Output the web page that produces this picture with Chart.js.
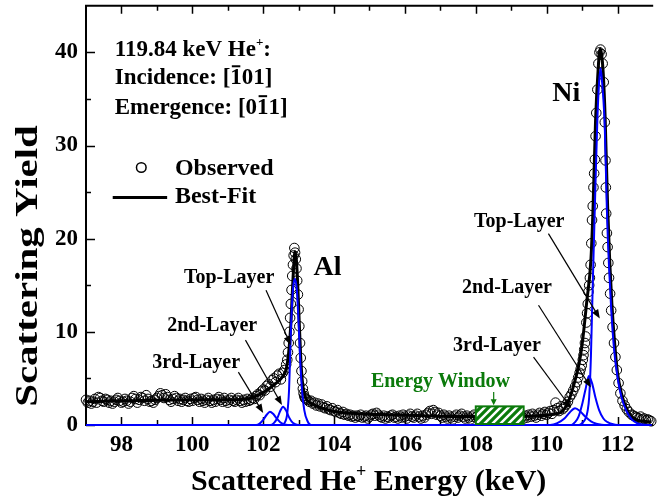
<!DOCTYPE html>
<html><head><meta charset="utf-8">
<script src="https://cdn.jsdelivr.net/npm/chart.js@4/dist/chart.umd.min.js"></script>
<style>html,body{margin:0;padding:0;background:#fff;overflow:hidden}canvas{display:block}</style>
</head><body>
<canvas id="c" width="657" height="502"></canvas>
<script>
// ---------- axis ticks ----------
const xTickValues = [98, 100, 102, 104, 106, 108, 110, 112];
const xMinorTicks = [99, 101, 103, 105, 107, 109, 111];
const yTickValues = [0, 10, 20, 30, 40];
const yMinorTicks = [5, 15, 25, 35];

// ---------- observed spectrum (keV, counts) ----------
const obsEnergy = [
 97,97.05,97.1,97.15,97.2,97.25,97.3,97.35,97.4,97.45,97.5,97.55,97.6,97.65,97.7,97.75,97.8,97.85,97.9,97.95,
 98,98.05,98.1,98.15,98.2,98.25,98.3,98.35,98.4,98.45,98.5,98.55,98.6,98.65,98.7,98.75,98.8,98.85,98.9,98.95,
 99,99.05,99.1,99.15,99.2,99.25,99.3,99.35,99.4,99.45,99.5,99.55,99.6,99.65,99.7,99.75,99.8,99.85,99.9,99.95,
 100,100.05,100.1,100.15,100.2,100.25,100.3,100.35,100.4,100.45,100.5,100.55,100.6,100.65,100.7,100.75,100.8,100.85,100.9,100.95,
 101,101.05,101.1,101.15,101.2,101.25,101.3,101.35,101.4,101.45,101.5,101.55,101.6,101.65,101.7,101.75,101.8,101.85,101.9,101.95,
 102,102.05,102.1,102.15,102.2,102.25,102.3,102.35,102.4,102.45,102.5,102.55,102.6,102.65,
 102.68,102.7,102.72,102.74,102.76,102.78,102.8,102.82,102.84,102.86,102.88,102.9,102.92,102.94,102.96,102.98,103,103.02,103.04,103.06,103.08,103.1,103.12,103.14,103.16,103.18,103.2,
 103.25,103.3,103.35,103.4,103.45,103.5,103.55,103.6,103.65,103.7,103.75,103.8,103.85,103.9,103.95,
 104,104.05,104.1,104.15,104.2,104.25,104.3,104.35,104.4,104.45,104.5,104.55,104.6,104.65,104.7,104.75,104.8,104.85,104.9,104.95,
 105,105.05,105.1,105.15,105.2,105.25,105.3,105.35,105.4,105.45,105.5,105.55,105.6,105.65,105.7,105.75,105.8,105.85,105.9,105.95,
 106,106.05,106.1,106.15,106.2,106.25,106.3,106.35,106.4,106.45,106.5,106.55,106.6,106.65,106.7,106.75,106.8,106.85,106.9,106.95,
 107,107.05,107.1,107.15,107.2,107.25,107.3,107.35,107.4,107.45,107.5,107.55,107.6,107.65,107.7,107.75,107.8,107.85,107.9,107.95,
 108,108.05,108.1,108.15,108.2,108.25,108.3,108.35,108.4,108.45,108.5,108.55,108.6,108.65,108.7,108.75,108.8,108.85,108.9,108.95,
 109,109.05,109.1,109.15,109.2,109.25,109.3,109.35,109.4,109.45,109.5,109.55,109.6,109.65,109.7,109.75,109.8,109.85,109.9,109.95,
 110,110.05,110.1,110.15,110.2,110.25,110.3,110.35,110.4,110.45,
 110.5,110.55,110.6,110.65,110.7,110.75,110.8,110.85,110.89,110.93,110.96,110.99,
 111.02,111.04,111.06,111.08,111.1,111.12,111.14,111.16,111.18,111.2,111.22,111.24,111.26,111.28,111.3,111.32,111.34,111.36,111.38,111.4,
 111.43,111.46,111.49,111.52,111.55,111.58,111.61,111.64,
 111.66,111.67,111.68,111.7,111.72,111.74,111.76,
 111.79,111.82,111.86,111.9,111.94,111.98,
 112.03,112.08,112.14,112.2,112.26,112.32,112.4,112.45,
 112.5,112.55,112.6,112.65,112.7,112.75,112.8,112.85,112.9,112.95
];
const obsCount = [
 2.7,2.4,2.6,2.3,2.5,2.8,2.4,3.0,2.9,2.6,2.5,2.8,2.7,2.4,2.6,2.3,2.5,2.7,2.9,2.6,
 2.4,2.5,2.8,2.6,2.3,2.5,2.9,3.1,2.8,2.4,2.7,3.0,2.9,2.6,3.2,2.8,2.5,2.6,2.4,2.7,
 2.9,3.1,3.4,3.2,2.9,3.3,3.0,2.7,2.5,2.8,3.1,2.9,2.6,2.8,2.5,2.7,2.9,2.6,2.5,2.8,
 2.6,2.9,3.0,2.7,2.5,2.8,2.6,2.4,2.7,2.9,2.6,2.4,2.7,2.5,2.8,3.0,2.7,2.5,2.9,2.6,
 2.4,2.7,2.9,2.6,2.5,2.7,2.9,2.6,2.4,2.7,2.5,2.8,2.6,2.7,2.9,2.8,3.1,3.3,3.2,3.6,
 3.8,3.7,4.2,4.4,4.1,4.8,5.0,4.6,5.3,5.5,4.9,5.6,5.9,6.5,
 7.0,7.8,8.8,10.0,11.5,13.0,14.5,16.0,17.2,18.2,19.0,18.5,17.8,16.8,15.5,14.0,12.4,10.6,8.8,7.2,5.8,4.7,3.9,3.4,3.1,2.9,2.8,
 2.7,2.5,2.6,2.3,2.4,2.1,2.3,2.0,2.2,1.9,1.8,2.0,1.7,1.6,1.8,
 1.5,1.4,1.6,1.3,1.2,1.4,1.1,1.2,1.0,1.1,0.9,1.0,0.8,1.0,0.9,1.1,0.8,0.9,1.0,0.7,
 0.9,1.1,1.2,1.0,1.3,1.1,0.9,0.8,1.0,0.7,0.9,0.8,1.0,1.1,0.8,0.9,0.7,1.0,0.8,1.1,
 0.9,0.7,1.0,1.2,0.9,0.8,1.0,1.2,0.9,0.7,1.0,0.8,1.1,1.3,1.5,1.2,1.6,1.4,1.1,1.3,
 1.0,0.8,1.1,0.9,0.7,1.0,0.8,0.6,0.9,1.1,0.8,1.0,1.2,0.9,0.7,1.0,0.8,0.6,0.9,1.1,
 0.8,1.0,0.7,0.9,1.1,0.8,0.6,0.9,1.0,0.7,0.9,1.2,0.8,0.6,0.9,1.1,0.8,1.0,0.7,0.9,
 1.1,0.8,1.0,0.7,0.9,1.2,0.9,0.7,1.0,0.8,1.1,0.9,1.2,1.0,0.8,1.1,1.3,1.0,1.2,1.4,
 1.1,1.3,1.5,1.2,1.6,2.4,1.8,1.5,2.0,1.7,
 1.9,2.2,2.5,3.0,3.3,3.7,4.1,4.6,5.1,5.6,6.0,6.4,
 7.0,7.5,8.1,8.8,9.5,11.0,12.0,13.0,14.3,15.0,15.8,17.2,19.5,22.0,23.5,25.5,27.0,28.5,31.0,33.5,
 36.0,38.8,40.0,40.3,39.8,38.8,36.8,32.5,
 28.4,25.5,22.7,20.6,19.1,17.4,15.8,
 14.1,12.3,10.5,8.8,7.3,5.9,
 4.5,3.4,2.6,2.1,1.7,1.4,1.1,1.0,
 0.9,0.8,0.7,0.9,0.6,0.7,0.5,0.6,0.5,0.4
];

// ---------- best fit (keV, counts) ----------
const fitEnergy = [97,97.5,98,98.5,99,99.5,100,100.5,101,101.4,101.6,101.8,102.0,102.2,102.4,102.55,102.65,102.72,102.78,102.83,102.87,102.9,102.94,102.98,103.02,103.06,103.1,103.15,103.2,103.3,103.5,103.75,104.0,104.5,105.0,105.5,106.0,107.0,108.0,109.0,109.5,109.8,110.0,110.2,110.4,110.6,110.75,110.9,111.0,111.13,111.25,111.31,111.38,111.45,111.51,111.55,111.6,111.65,111.72,111.78,111.84,111.92,112.0,112.11,112.25,112.4,112.6,112.95];
const fitCount  = [2.5,2.55,2.6,2.62,2.65,2.68,2.7,2.72,2.72,2.75,2.82,3.1,3.5,4.0,4.6,5.2,6.0,7.8,10.8,14.8,17.6,18.6,17.6,14.6,10.8,7.2,4.9,3.5,2.9,2.45,2.05,1.7,1.45,1.25,1.15,1.1,1.05,0.95,0.9,0.9,0.95,1.0,1.05,1.15,1.35,2.4,4.1,6.3,8.6,13.2,17.8,23.4,32.7,38.0,40.4,39.8,37.5,33.0,23.5,17.5,13.0,8.7,5.6,3.4,1.8,0.9,0.45,0.35];

// ---------- layer components (keV, counts) ----------
const alTopE    = [97,102.55,102.6,102.68,102.73,102.76,102.79,102.84,102.89,102.95,103.0,103.04,103.09,103.16,103.26,103.35,112.95];
const alTopY    = [0,0,0.2,1.25,3.75,7.3,10.9,14.5,15.7,14.5,10.9,7.3,4.1,1.6,0.35,0,0];
const alSecondE = [97,102.2,102.3,102.4,102.48,102.56,102.64,102.72,102.8,102.9,103.0,112.95];
const alSecondY = [0,0,0.2,0.75,1.5,1.96,1.6,0.9,0.4,0.1,0,0];
const alThirdE  = [97,101.8,101.9,102.0,102.1,102.19,102.28,102.38,102.48,102.58,102.7,112.95];
const alThirdY  = [0,0,0.15,0.55,1.1,1.43,1.2,0.7,0.3,0.08,0,0];
const niTopE    = [97,110.9,111.0,111.1,111.15,111.2,111.25,111.3,111.36,111.43,111.48,111.52,111.56,111.6,111.64,111.7,111.76,111.82,111.9,112.0,112.11,112.25,112.4,112.55,112.7,112.95];
const niTopY    = [0,0,0.2,0.7,1.4,3.0,7.5,15.0,23.4,32.7,36.8,38.3,37.0,35.0,32.0,23.0,17.0,12.5,8.2,5.1,3.0,1.5,0.6,0.2,0.05,0];
const niSecondE = [97,110.7,110.8,110.9,111.0,111.1,111.19,111.28,111.38,111.48,111.6,111.72,111.85,112.0,112.95];
const niSecondY = [0,0,0.3,0.9,2.2,3.9,5.25,4.5,2.9,1.6,0.7,0.3,0.1,0,0];
const niThirdE  = [97,110.1,110.3,110.5,110.65,110.8,110.95,111.1,111.25,111.4,111.55,111.7,112.95];
const niThirdY  = [0,0,0.2,0.7,1.35,1.8,1.45,0.85,0.4,0.15,0.03,0,0];

// energy window (keV range, counts height)
const windowRange = [108.0, 109.35];
const windowHeight = 2.0;

// ---------- annotation layout (data coordinates) ----------
const layerNotes = [
  {text:'Top-Layer', at:[99.765,15.21], tail:[102.08,14.46], head:[102.78,8.57]},
  {text:'2nd-Layer', at:[99.29,10.07],  tail:[101.50,9.11],  head:[102.53,2.14]},
  {text:'3rd-Layer', at:[98.87,6.11],   tail:[101.30,5.68],  head:[102.00,1.29]},
  {text:'Top-Layer', at:[107.95,21.21], tail:[110.05,20.54], head:[111.50,11.43]},
  {text:'2nd-Layer', at:[107.61,14.14], tail:[109.77,12.86], head:[111.25,4.02]},
  {text:'3rd-Layer', at:[107.36,7.93],  tail:[109.63,7.29],  head:[110.69,1.82]}
];

const SERIF = '"Liberation Serif","Times New Roman",Times,serif';
const F = (s) => `bold ${s}px ${SERIF}`;
const pts = (E, Y) => E.slice(0, Math.min(E.length, Y.length)).map((e, i) => ({x: e, y: Y[i]}));

const blue = {type:'line', borderColor:'#0000ff', borderWidth:2, pointRadius:0, showLine:true, fill:false, cubicInterpolationMode:'monotone', clip:6};

function drawRuns(ctx, x, y, runs, measureOnly) {
  let w0 = 0;
  for (const r of runs) {
    ctx.font = F(r.size);
    const w = ctx.measureText(r.t).width;
    if (!measureOnly) {
      ctx.fillText(r.t, x + w0, y + (r.dy || 0));
      if (r.bar) ctx.fillRect(x + w0 + 1.5, y - r.size * 0.80, w - 3, 2);
    }
    w0 += w;
  }
  return w0;
}

function arrow(ctx, x1, y1, x2, y2, color, hl, hw) {
  ctx.strokeStyle = color; ctx.fillStyle = color; ctx.lineWidth = 1.2;
  const a = Math.atan2(y2 - y1, x2 - x1);
  ctx.beginPath(); ctx.moveTo(x1, y1);
  ctx.lineTo(x2 - Math.cos(a) * hl * 0.8, y2 - Math.sin(a) * hl * 0.8); ctx.stroke();
  ctx.beginPath();
  ctx.moveTo(x2, y2);
  ctx.lineTo(x2 - Math.cos(a) * hl + Math.sin(a) * hw, y2 - Math.sin(a) * hl - Math.cos(a) * hw);
  ctx.lineTo(x2 - Math.cos(a) * hl - Math.sin(a) * hw, y2 - Math.sin(a) * hl + Math.cos(a) * hw);
  ctx.closePath(); ctx.fill();
}

const decor = {
  id: 'decor',
  beforeDatasetsDraw(chart) {
    const {ctx, chartArea: a, scales: {x, y}} = chart;
    ctx.save();
    ctx.strokeStyle = '#000';
    ctx.lineWidth = 2;
    ctx.beginPath();
    ctx.moveTo(a.left, a.bottom + 1); ctx.lineTo(a.left, a.top); ctx.lineTo(a.right + 2, a.top);
    ctx.moveTo(a.left, a.bottom); ctx.lineTo(a.right + 2, a.bottom);
    ctx.stroke();
    ctx.lineWidth = 1.5;
    ctx.beginPath();
    const tick = (v, len) => {
      const px = Math.round(x.getPixelForValue(v)) + 0.5;
      ctx.moveTo(px, a.bottom); ctx.lineTo(px, a.bottom - len);
      ctx.moveTo(px, a.top); ctx.lineTo(px, a.top + len);
    };
    xTickValues.forEach(v => tick(v, 8));
    xMinorTicks.forEach(v => tick(v, 5));
    const ytick = (v, len) => {
      const py = Math.round(y.getPixelForValue(v)) + 0.5;
      ctx.moveTo(a.left, py); ctx.lineTo(a.left + len, py);
    };
    yTickValues.forEach(v => ytick(v, 9));
    yMinorTicks.forEach(v => ytick(v, 5));
    ctx.stroke();
    ctx.restore();
  },
  afterDatasetsDraw(chart) {
    const {ctx, chartArea: a, scales: {x, y}} = chart;
    const X = v => x.getPixelForValue(v), Y = v => y.getPixelForValue(v);
    ctx.save();
    // energy window box
    const pc = document.createElement('canvas'); pc.width = 8; pc.height = 8;
    const p = pc.getContext('2d');
    p.fillStyle = '#ffffff'; p.fillRect(0, 0, 8, 8);
    p.strokeStyle = '#0b7a0b'; p.lineWidth = 3.2;
    p.beginPath();
    p.moveTo(-2, 10); p.lineTo(10, -2);
    p.moveTo(-6, 6); p.lineTo(6, -6);
    p.moveTo(2, 14); p.lineTo(14, 2);
    p.stroke();
    const pat = ctx.createPattern(pc, 'repeat');
    const bx = X(windowRange[0]), bx2 = X(windowRange[1]), by = Y(windowHeight), by2 = Y(0);
    ctx.fillStyle = pat; ctx.fillRect(bx, by, bx2 - bx, by2 - by - 1);
    ctx.strokeStyle = '#0b7a0b'; ctx.lineWidth = 2;
    ctx.strokeRect(bx, by, bx2 - bx, by2 - by - 1);
    const wx = X((windowRange[0] + windowRange[1]) / 2 - 0.17);
    arrow(ctx, wx, Y(3.54), wx, by - 1, '#0b7a0b', 6, 3);
    ctx.fillStyle = '#0b7a0b'; ctx.font = F(20); ctx.textBaseline = 'alphabetic'; ctx.textAlign = 'left';
    ctx.fillText('Energy Window', X(105.04), Y(4.07));

    // layer labels + arrows
    for (const n of layerNotes) {
      ctx.fillStyle = '#000'; ctx.font = F(20); ctx.textAlign = 'left';
      ctx.fillText(n.text, X(n.at[0]), Y(n.at[1]));
      arrow(ctx, X(n.tail[0]), Y(n.tail[1]), X(n.head[0]), Y(n.head[1]), '#000', 9, 3.5);
    }
    ctx.fillStyle = '#000';
    ctx.font = F(28);
    ctx.fillText('Al', X(103.42), Y(16.07));
    ctx.fillText('Ni', X(110.16), Y(34.82));

    // header
    const hx = X(97.81);
    drawRuns(ctx, hx, Y(39.64), [{t:'119.84 keV He', size:23}, {t:'+', size:13, dy:-10}, {t:':', size:23}]);
    drawRuns(ctx, hx, Y(36.64), [{t:'Incidence: [', size:23}, {t:'1', size:23, bar:true}, {t:'01]', size:23}]);
    drawRuns(ctx, hx, Y(33.43), [{t:'Emergence: [0', size:23}, {t:'1', size:23, bar:true}, {t:'1]', size:23}]);

    // legend
    ctx.strokeStyle = '#000'; ctx.lineWidth = 1.5;
    ctx.beginPath(); ctx.arc(X(98.56), Y(27.64), 4.8, 0, Math.PI * 2); ctx.stroke();
    ctx.font = F(24);
    ctx.fillText('Observed', X(99.51), Y(26.79));
    ctx.lineWidth = 3;
    ctx.beginPath(); ctx.moveTo(X(97.754), Y(24.43)); ctx.lineTo(X(99.29), Y(24.43)); ctx.stroke();
    ctx.fillText('Best-Fit', X(99.51), Y(23.79));

    // x title
    const xr = [{t:'Scattered He', size:30}, {t:'+', size:18, dy:-13}, {t:' Energy (keV)', size:30}];
    const tw = drawRuns(ctx, 0, 0, xr, true);
    drawRuns(ctx, (a.left + a.right) / 2 - tw / 2, 490, xr);

    // y title
    ctx.save();
    ctx.translate(37, 266);
    ctx.rotate(-Math.PI / 2);
    ctx.scale(1.28, 1);
    ctx.font = F(32); ctx.textAlign = 'center';
    ctx.fillText('Scattering Yield', 0, 0);
    ctx.restore();
    ctx.restore();
  }
};

new Chart(document.getElementById('c'), {
  type: 'scatter',
  data: {
    datasets: [
      {label:'Al top layer', data: pts(alTopE, alTopY), ...blue},
      {label:'Al 2nd layer', data: pts(alSecondE, alSecondY), ...blue},
      {label:'Al 3rd layer', data: pts(alThirdE, alThirdY), ...blue},
      {label:'Ni top layer', data: pts(niTopE, niTopY), ...blue},
      {label:'Ni 2nd layer', data: pts(niSecondE, niSecondY), ...blue},
      {label:'Ni 3rd layer', data: pts(niThirdE, niThirdY), ...blue},
      {label:'Best-Fit', type:'line', data: pts(fitEnergy, fitCount), borderColor:'#000', borderWidth:3, pointRadius:0, showLine:true, fill:false, cubicInterpolationMode:'monotone', clip:6},
      {label:'Observed', data: pts(obsEnergy, obsCount), showLine:false, pointRadius:4.8, pointHoverRadius:4.8, pointBorderWidth:1, borderColor:'#000', backgroundColor:'rgba(0,0,0,0)', pointBorderColor:'#000', pointBackgroundColor:'rgba(0,0,0,0)', clip:6}
    ]
  },
  options: {
    responsive: false,
    animation: false,
    events: [],
    layout: {padding: {left: 0, right: 0, top: 5, bottom: 0}},
    plugins: {legend: {display: false}, tooltip: {enabled: false}},
    scales: {
      x: {
        type: 'linear', min: 97, max: 112.95,
        grid: {display: false, drawTicks: false}, border: {display: false},
        afterBuildTicks: s => { s.ticks = xTickValues.map(v => ({value: v})); },
        afterFit: s => { s.height = 77; s.paddingLeft = 0; s.paddingRight = 0; },
        ticks: {font: {family: SERIF, size: 23, weight: 'bold'}, color: '#000', padding: 6, maxRotation: 0, autoSkip: false}
      },
      y: {
        type: 'linear', min: 0, max: 45,
        grid: {display: false, drawTicks: false}, border: {display: false},
        afterBuildTicks: s => { s.ticks = yTickValues.map(v => ({value: v})); },
        afterFit: s => { s.width = 86; s.paddingTop = 0; s.paddingBottom = 0; },
        ticks: {font: {family: SERIF, size: 23, weight: 'bold'}, color: '#000', padding: 8}
      }
    }
  },
  plugins: [decor]
});
</script>
</body></html>
